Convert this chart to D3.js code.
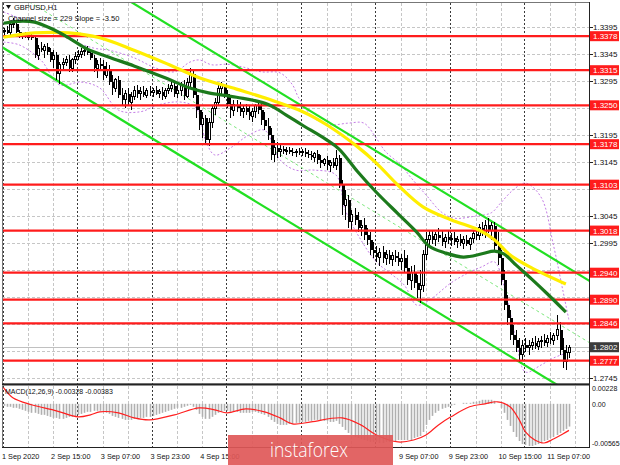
<!DOCTYPE html>
<html><head><meta charset="utf-8">
<script src="https://cdn.jsdelivr.net/npm/d3@7"></script>
<style>body{margin:0;background:#fff}svg{display:block}text{font-family:"Liberation Sans",Arial,sans-serif}</style>
</head><body><svg id="c" width="620" height="465"></svg>
<script>
// ---------- DATA ----------
const symbolTitle = "GBPUSD,H1";
const channelTitle = "Channel size = 229 Slope = -3.50";
const macdTitle = "MACD(12,26,9) -0.00328 -0.00383";
const firstOpen = 1.3386;
const closes = [
1.3389,1.3384,1.3399,1.3401,1.3386,1.3378,1.3380,1.3376,1.3378,1.3375,1.3343,1.3356,1.3352,1.3358,1.3349,1.3334,1.3343,1.3308,1.3325,1.3330,1.3334,1.3319,1.3334,1.3341,
1.3345,1.3349,1.3352,1.3347,1.3338,1.3319,1.3326,1.3323,1.3306,1.3315,1.3293,1.3282,1.3297,1.3269,1.3260,1.3271,1.3256,1.3267,1.3278,1.3271,1.3275,1.3269,1.3277,1.3273,
1.3278,1.3271,1.3275,1.3267,1.3278,1.3282,1.3286,1.3271,1.3278,1.3288,1.3267,1.3293,1.3308,1.3269,1.3241,1.3214,1.3226,1.3186,1.3219,1.3245,1.3256,1.3282,1.3286,1.3271,
1.3252,1.3241,1.3251,1.3245,1.3238,1.3245,1.3238,1.3230,1.3238,1.3249,1.3241,1.3223,1.3212,1.3195,1.3158,1.3171,1.3164,1.3169,1.3165,1.3167,1.3164,1.3162,1.3165,1.3162,
1.3164,1.3160,1.3158,1.3154,1.3160,1.3149,1.3143,1.3149,1.3139,1.3145,1.3138,1.3152,1.3102,1.3065,1.3075,1.3034,1.3047,1.3038,1.3023,1.3028,1.3010,1.3001,1.2982,1.2977,
1.2969,1.2978,1.2967,1.2973,1.2964,1.2971,1.2967,1.2960,1.2967,1.2949,1.2926,1.2941,1.2921,1.2908,1.2917,1.2973,1.3001,1.3008,1.3001,1.3010,1.3004,1.2997,1.3006,1.3001,
1.3004,1.2997,1.3002,1.2995,1.3001,1.2993,1.3004,1.3012,1.3008,1.3023,1.3015,1.3028,1.3019,1.3027,1.2989,1.2967,1.2926,1.2880,1.2856,1.2825,1.2815,1.2801,1.2788,1.2806,
1.2801,1.2806,1.2810,1.2804,1.2812,1.2815,1.2810,1.2819,1.2815,1.2823,1.2834,1.2797,1.2775,1.2793,1.2802];
const highs = [
1.3393,1.3397,1.3404,1.3412,1.3404,1.3389,1.3384,1.3386,1.3384,1.3384,1.3378,1.3362,1.3367,1.3364,1.3365,1.3356,1.3352,1.3349,1.3330,1.3338,1.3341,1.3343,1.3338,1.3349,
1.3352,1.3356,1.3358,1.3360,1.3352,1.3343,1.3334,1.3338,1.3334,1.3330,1.3325,1.3306,1.3301,1.3304,1.3282,1.3278,1.3282,1.3275,1.3286,1.3288,1.3284,1.3286,1.3282,1.3286,
1.3282,1.3286,1.3280,1.3284,1.3282,1.3289,1.3293,1.3293,1.3288,1.3293,1.3297,1.3301,1.3319,1.3315,1.3282,1.3251,1.3238,1.3232,1.3226,1.3251,1.3264,1.3289,1.3293,1.3289,
1.3278,1.3264,1.3260,1.3260,1.3256,1.3251,1.3252,1.3249,1.3245,1.3252,1.3260,1.3252,1.3238,1.3226,1.3208,1.3186,1.3182,1.3176,1.3175,1.3173,1.3173,1.3171,1.3169,1.3171,
1.3169,1.3171,1.3167,1.3165,1.3164,1.3167,1.3158,1.3152,1.3156,1.3149,1.3152,1.3167,1.3158,1.3112,1.3093,1.3084,1.3056,1.3060,1.3052,1.3038,1.3041,1.3023,1.3015,1.2997,
1.2989,1.2986,1.2989,1.2982,1.2982,1.2978,1.2982,1.2978,1.2975,1.2982,1.2973,1.2952,1.2954,1.2936,1.2945,1.2982,1.3015,1.3019,1.3019,1.3015,1.3023,1.3017,1.3012,1.3017,
1.3014,1.3015,1.3008,1.3012,1.3008,1.3010,1.3006,1.3019,1.3023,1.3030,1.3034,1.3038,1.3041,1.3034,1.3034,1.3015,1.2982,1.2945,1.2899,1.2871,1.2843,1.2834,1.2819,1.2815,
1.2819,1.2815,1.2819,1.2823,1.2819,1.2823,1.2826,1.2825,1.2830,1.2828,1.2862,1.2849,1.2819,1.2806,1.2806];
const lows = [
1.3380,1.3382,1.3380,1.3393,1.3384,1.3375,1.3373,1.3375,1.3371,1.3371,1.3338,1.3334,1.3349,1.3338,1.3343,1.3330,1.3319,1.3297,1.3289,1.3315,1.3323,1.3312,1.3312,1.3326,
1.3334,1.3338,1.3341,1.3343,1.3334,1.3312,1.3301,1.3315,1.3297,1.3301,1.3288,1.3269,1.3275,1.3264,1.3251,1.3245,1.3249,1.3241,1.3260,1.3264,1.3260,1.3265,1.3264,1.3267,
1.3265,1.3269,1.3264,1.3260,1.3262,1.3271,1.3275,1.3265,1.3264,1.3267,1.3260,1.3264,1.3282,1.3264,1.3226,1.3204,1.3189,1.3177,1.3175,1.3208,1.3232,1.3249,1.3271,1.3264,
1.3245,1.3226,1.3230,1.3238,1.3230,1.3226,1.3232,1.3223,1.3219,1.3226,1.3234,1.3214,1.3204,1.3186,1.3149,1.3145,1.3152,1.3154,1.3160,1.3158,1.3160,1.3156,1.3154,1.3158,
1.3156,1.3154,1.3152,1.3149,1.3145,1.3141,1.3134,1.3138,1.3130,1.3127,1.3134,1.3130,1.3097,1.3047,1.3038,1.3023,1.3019,1.3028,1.3015,1.3008,1.3001,1.2991,1.2973,1.2967,
1.2960,1.2952,1.2958,1.2954,1.2956,1.2952,1.2960,1.2952,1.2945,1.2941,1.2917,1.2908,1.2912,1.2893,1.2884,1.2904,1.2964,1.2986,1.2993,1.2989,1.2997,1.2989,1.2986,1.2993,
1.2989,1.2991,1.2986,1.2989,1.2984,1.2989,1.2982,1.2995,1.3001,1.3001,1.3008,1.3004,1.3014,1.3001,1.2982,1.2954,1.2917,1.2871,1.2843,1.2815,1.2806,1.2793,1.2775,1.2778,
1.2793,1.2788,1.2797,1.2799,1.2797,1.2801,1.2804,1.2802,1.2808,1.2806,1.2815,1.2788,1.2764,1.2760,1.2782];

// moving averages & Bollinger bands: [bar, price]
const maFast = [[0,1.3402],[6,1.3406],[10,1.3404],[15,1.3393],[21,1.3375],[27,1.3354],[34,1.3339],[42,1.3323],[52,1.3301],[60,1.3282],[66,1.3273],[75,1.3265],[85,1.3252],[91,1.3232],[96,1.3214],[104,1.3186],[108,1.3169],[114,1.3127],[120,1.3089],[127,1.3049],[133,1.3015],[137,1.2989],[142,1.2977],[148,1.2969],[154,1.2975],[158,1.2980],[161,1.2975],[165,1.2954],[170,1.2928],[175,1.2901],[181,1.2867]];
const maSlow = [[0,1.3376],[10,1.3384],[21,1.3384],[31,1.3375],[42,1.3352],[53,1.3326],[63,1.3301],[75,1.3280],[85,1.3262],[96,1.3239],[104,1.3214],[114,1.3173],[120,1.3143],[127,1.3102],[135,1.3062],[144,1.3038],[153,1.3019],[158,1.3001],[163,1.2973],[170,1.2949],[181,1.2919]];
const bandUpper = [[0,1.3423],[5,1.3412],[13,1.3399],[20,1.3375],[29,1.3356],[34,1.3352],[42,1.3338],[49,1.3319],[55,1.3312],[60,1.3330],[63,1.3334],[67,1.3325],[72,1.3326],[77,1.3321],[83,1.3312],[89,1.3310],[93,1.3288],[95,1.3264],[100,1.3226],[105,1.3214],[111,1.3217],[116,1.3217],[120,1.3189],[123,1.3164],[128,1.3139],[131,1.3117],[136,1.3084],[141,1.3052],[145,1.3041],[152,1.3045],[157,1.3051],[160,1.3069],[164,1.3093],[168,1.3106],[173,1.3080],[177,1.2991],[180,1.2908],[182,1.2852]];
const bandLower = [[0,1.3367],[5,1.3362],[12,1.3334],[18,1.3288],[25,1.3293],[31,1.3282],[37,1.3241],[44,1.3238],[50,1.3251],[57,1.3256],[62,1.3245],[65,1.3186],[68,1.3158],[73,1.3171],[79,1.3195],[84,1.3204],[89,1.3149],[94,1.3130],[100,1.3130],[107,1.3121],[110,1.3056],[115,1.3001],[120,1.2960],[124,1.2941],[129,1.2917],[133,1.2880],[137,1.2889],[144,1.2921],[150,1.2941],[154,1.2951],[158,1.2960],[161,1.2917],[165,1.2815],[168,1.2756],[173,1.2769],[177,1.2782],[182,1.2793]];

// regression channel
const channelStartBar = 0, channelStartPrice = 1.3585, channelSlope = -0.00035, channelSize = 0.0229;

const levels = [1.3378,1.3315,1.3250,1.3178,1.3103,1.3018,1.2940,1.2890,1.2846,1.2777];
const currentPrice = 1.2802;
const priceTicks = [1.2745,1.2795,1.2845,1.2895,1.2945,1.2995,1.3045,1.3095,1.3145,1.3195,1.3245,1.3295,1.3345,1.3395];

// labels that the watermark fully hides in the reference are left out
const timeLabels = [[-1,"1 Sep 2020"],[15,"2 Sep 15:00"],[31,"3 Sep 07:00"],[47,"3 Sep 23:00"],[63,"4 Sep 15:00"],[127,"9 Sep 07:00"],[143,"9 Sep 23:00"],[159,"10 Sep 15:00"],[175,"11 Sep 07:00"]];
const daySeparators = [0,24,48,72,96,120,144,168];

const macdHist = [
-0.00029,-0.00043,-0.00043,-0.00058,-0.00058,-0.00072,
-0.00087,-0.00101,-0.00116,-0.0013,-0.0013,-0.00145,-0.00159,-0.00159,-0.00174,-0.00188,
-0.00203,-0.00203,-0.00217,-0.00217,-0.00203,-0.00188,-0.00188,-0.00174,-0.00159,-0.00145,
-0.0013,-0.00116,-0.00116,-0.00101,-0.00101,-0.00101,-0.00116,-0.0013,
-0.00145,-0.00174,-0.00188,-0.00203,-0.00217,-0.00232,-0.00232,-0.00232,-0.00217,-0.00217,-0.00203,-0.00203,-0.00188,-0.00188,
-0.00174,-0.00159,-0.00145,-0.0013,-0.00116,-0.00101,-0.00087,-0.00072,-0.00058,-0.00058,-0.00043,-0.00029,-0.00014,
-0.00043,-0.00087,-0.00145,-0.00188,-0.00217,-0.00217,-0.00188,-0.00159,-0.0013,-0.00116,-0.00101,
-0.00101,-0.00116,-0.00116,-0.00116,-0.0013,-0.0013,-0.0013,-0.0013,-0.00116,-0.00116,-0.0013,-0.00145,-0.00159,-0.00188,
-0.00232,-0.00261,-0.0029,-0.00304,-0.00304,-0.00304,-0.0029,-0.0029,-0.00275,-0.00275,-0.00261,-0.00261,-0.00246,-0.00246,
-0.00232,-0.00232,-0.00246,-0.00246,-0.00246,-0.00261,-0.00261,-0.00246,
-0.0029,-0.00333,-0.00377,-0.0042,-0.00449,-0.00478,-0.00493,-0.00507,-0.00522,-0.00536,-0.0055,-0.0055,
-0.0055,-0.00565,-0.00565,-0.0055,-0.0055,-0.00536,-0.00536,-0.00522,-0.00522,-0.00522,
-0.00522,-0.00522,-0.00493,-0.00478,-0.00464,-0.00406,
-0.00304,-0.00232,-0.00174,-0.0013,-0.00101,-0.00072,-0.00058,-0.00043,
-0.00029,-0.00014,0,0,0.00014,0.00014,0.00014,0.00029,0.00029,0.00043,0.00058,0.00058,0.00058,0.00058,
0.00043,0,-0.00058,-0.0013,-0.00232,-0.00319,-0.00406,-0.00478,-0.00536,-0.0058,
-0.00594,-0.00608,-0.00608,-0.00594,-0.0058,-0.00565,-0.00536,-0.00522,-0.00493,-0.00478,-0.00449,-0.0042,-0.00391,-0.00362,-0.00328];
const macdSignal = [[0,0.00232],[3,0.00087],[9,-0.00014],[17,-0.00101],[24,-0.00188],[28,-0.00159],[31,-0.00116],[37,-0.0013],[42,-0.00203],[47,-0.00232],[55,-0.00159],[63,-0.00058],[68,-0.00087],[72,-0.0013],[78,-0.00072],[84,-0.00116],[89,-0.00203],[93,-0.0029],[99,-0.00261],[109,-0.00203],[115,-0.00304],[120,-0.00449],[127,-0.0055],[132,-0.00522],[136,-0.00449],[140,-0.00304],[144,-0.00188],[150,-0.00043],[155,0],[159,0.00029],[163,-0.00043],[166,-0.00232],[168,-0.00406],[171,-0.00522],[174,-0.00565],[177,-0.00507],[180,-0.00435],[182,-0.00383]];
const macdTickValues = [0.00228, 0, -0.00565];
const macdTickLabels = ["0.00228", "0.00", "-0.00565"];
const watermarkText = "instaforex";

// ---------- LAYOUT ----------
const L = 2, R = 590, mainT = 3, mainB = 384, macdT = 386, macdB = 447;
const svg = d3.select("#c");
const nBars = closes.length;
const x = d3.scaleLinear().domain([0, nBars - 1]).range([3.5, 3.5 + (nBars - 1) * 3.107]);
const y = d3.scaleLinear().domain([1.2745, 1.3395]).range([378, 27]);
const ym = d3.scaleLinear().domain([-0.00565, 0.00228]).range([443, 388]);
const opens = closes.map((c, i) => i === 0 ? firstOpen : closes[i - 1]);

const defs = svg.append("defs");
defs.append("clipPath").attr("id", "cm").append("rect").attr("x", L).attr("y", mainT).attr("width", R - L).attr("height", mainB - mainT);
defs.append("clipPath").attr("id", "cd").append("rect").attr("x", L).attr("y", macdT).attr("width", R - L).attr("height", macdB - macdT);

const gMain = svg.append("g").attr("clip-path", "url(#cm)");
const gMacd = svg.append("g").attr("clip-path", "url(#cd)");

// grid
gMain.selectAll("line.hg").data(priceTicks).join("line")
  .attr("x1", L).attr("x2", R).attr("y1", d => Math.round(y(d)) + 0.5).attr("y2", d => Math.round(y(d)) + 0.5)
  .attr("stroke", "#c6c6c6").attr("stroke-dasharray", "3,2");
const gridBars = d3.range(0, nBars + 8, 8).filter(b => !daySeparators.includes(b));
[gMain, gMacd].forEach((g, k) => {
  const y1 = k ? macdT : mainT, y2 = k ? macdB : mainB;
  g.selectAll("line.vg").data(gridBars).join("line")
    .attr("x1", d => Math.round(x(d)) + 0.5).attr("x2", d => Math.round(x(d)) + 0.5).attr("y1", y1).attr("y2", y2)
    .attr("stroke", "#c6c6c6").attr("stroke-dasharray", "3,2");
  g.selectAll("line.ds").data(daySeparators).join("line")
    .attr("x1", d => Math.round(x(d)) - 0.5).attr("x2", d => Math.round(x(d)) - 0.5).attr("y1", y1).attr("y2", y2)
    .attr("stroke", "#3a3a3a").attr("stroke-dasharray", "2,2");
});

// current price line
gMain.append("line").attr("x1", L).attr("x2", R).attr("y1", Math.round(y(currentPrice)) + 0.5).attr("y2", Math.round(y(currentPrice)) + 0.5)
  .attr("stroke", "#c0c0c0");

// bands
const curve = d3.line().x(d => x(d[0])).y(d => y(d[1])).curve(d3.curveCatmullRom.alpha(0.5));
[bandUpper, bandLower].forEach(b => gMain.append("path").attr("d", curve(b)).attr("fill", "none")
  .attr("stroke", "#c47ee6").attr("stroke-width", 1).attr("stroke-dasharray", "2,2"));

// channel
const chan = off => { const b0 = -5, b1 = nBars + 12;
  return [[b0, channelStartPrice + channelSlope * (b0 - channelStartBar) - off], [b1, channelStartPrice + channelSlope * (b1 - channelStartBar) - off]]; };
const straight = d3.line().x(d => x(d[0])).y(d => y(d[1]));
gMain.append("path").attr("d", straight(chan(channelSize / 2))).attr("stroke", "#7ee87e").attr("stroke-width", 1).attr("stroke-dasharray", "3,3").attr("fill", "none");
[0, channelSize].forEach(off => gMain.append("path").attr("d", straight(chan(off))).attr("stroke", "#22e022").attr("stroke-width", 2.2).attr("fill", "none"));

// candles
const cg = gMain.append("g").attr("shape-rendering", "crispEdges");
closes.forEach((c, i) => {
  const o = opens[i], cx = Math.round(x(i));
  cg.append("line").attr("x1", cx + 0.5).attr("x2", cx + 0.5).attr("y1", y(highs[i])).attr("y2", y(lows[i])).attr("stroke", "#000");
  const top = y(Math.max(o, c)), bot = y(Math.min(o, c));
  if (c >= o) {
    cg.append("rect").attr("x", cx - 0.5).attr("y", top).attr("width", 2).attr("height", Math.max(1, bot - top))
      .attr("fill", "#fff").attr("stroke", "#000").attr("stroke-width", 1);
  } else {
    cg.append("rect").attr("x", cx - 0.5).attr("y", top).attr("width", 3).attr("height", Math.max(1, bot - top)).attr("fill", "#000");
  }
});

// levels
gMain.selectAll("line.lv").data(levels).join("line")
  .attr("x1", L).attr("x2", R).attr("y1", d => y(d)).attr("y2", d => y(d))
  .attr("stroke", "#ff1c1c").attr("stroke-width", 2.2);

// moving averages
gMain.append("path").attr("d", curve(maSlow)).attr("fill", "none").attr("stroke", "#ffee00").attr("stroke-width", 3.2);
gMain.append("path").attr("d", curve(maFast)).attr("fill", "none").attr("stroke", "#1c7a1c").attr("stroke-width", 3.2);

// MACD
gMacd.selectAll("line.h").data(macdHist).join("line")
  .attr("x1", (d, i) => Math.round(x(i)) + 0.5).attr("x2", (d, i) => Math.round(x(i)) + 0.5)
  .attr("y1", ym(0)).attr("y2", d => ym(d)).attr("stroke", "#b0b0b0").attr("stroke-width", 1.6);
const mline = d3.line().x(d => x(d[0])).y(d => ym(d[1])).curve(d3.curveCatmullRom.alpha(0.5));
gMacd.append("path").attr("d", mline(macdSignal)).attr("fill", "none").attr("stroke", "#ff2020").attr("stroke-width", 1.2);

// frames
svg.append("rect").attr("x", L + 0.5).attr("y", mainT - 0.5).attr("width", R - L - 1).attr("height", mainB - mainT + 0.5).attr("fill", "none").attr("stroke", "#777");
svg.append("line").attr("x1", L).attr("x2", R).attr("y1", 384.5).attr("y2", 384.5).attr("stroke", "#222").attr("stroke-width", 2);
svg.append("line").attr("x1", L).attr("x2", R).attr("y1", macdB + 0.5).attr("y2", macdB + 0.5).attr("stroke", "#222");
svg.append("line").attr("x1", R - 0.5).attr("x2", R - 0.5).attr("y1", mainT - 1).attr("y2", macdB + 1).attr("stroke", "#222");
svg.append("line").attr("x1", L + 0.5).attr("x2", L + 0.5).attr("y1", macdT).attr("y2", macdB).attr("stroke", "#777");

// right axis
const ax = svg.append("g").style("font-size", "8px");
const boxed = levels.concat([currentPrice]);
const freeTicks = priceTicks.filter(t => boxed.every(b => Math.abs(y(t) - y(b)) >= 7));
ax.selectAll("line.t").data(priceTicks).join("line").attr("x1", R).attr("x2", R + 3)
  .attr("y1", d => Math.round(y(d)) + 0.5).attr("y2", d => Math.round(y(d)) + 0.5).attr("stroke", "#222");
ax.selectAll("text.t").data(freeTicks).join("text").attr("x", R + 3).attr("y", d => y(d) + 3)
  .attr("fill", "#111").text(d => d3.format(".4f")(d));
levels.forEach(l => {
  ax.append("rect").attr("x", R).attr("y", y(l) - 5).attr("width", 29).attr("height", 10).attr("fill", "#ff1c1c");
  ax.append("text").attr("x", R + 3).attr("y", y(l) + 3).attr("fill", "#fff").text(d3.format(".4f")(l));
});
ax.append("rect").attr("x", R).attr("y", y(currentPrice) - 5).attr("width", 29).attr("height", 10).attr("fill", "#3c3c3c");
ax.append("text").attr("x", R + 3).attr("y", y(currentPrice) + 3).attr("fill", "#fff").text(d3.format(".4f")(currentPrice));
macdTickValues.forEach((v, k) => {
  ax.append("text").attr("x", R + 2).attr("y", ym(v) + 3).style("font-size", "7px").attr("fill", "#111").text(macdTickLabels[k]);
});

// time labels
const tg = svg.append("g").style("font-size", "7.3px");
const tl = tg.selectAll("text").data(timeLabels).join("text")
  .attr("x", d => Math.max(L, x(d[0]) + 1)).attr("y", 459).attr("fill", "#111").text(d => d[1]);
let limit = R;
tl.nodes().slice().reverse().forEach(n => {
  const w = n.getComputedTextLength(); let xs = +n.getAttribute("x");
  if (xs + w > limit) xs = limit - w;
  n.setAttribute("x", xs); limit = xs - 3;
});

// header texts
svg.append("path").attr("d", "M6,5 L11,5 L8.5,9 Z").attr("fill", "#111");
svg.append("text").attr("x", 14).attr("y", 10).style("font-size", "7.5px").attr("fill", "#111").text(symbolTitle);
svg.append("text").attr("x", 8).attr("y", 21).style("font-size", "7.5px").attr("fill", "#111").text(channelTitle);
svg.append("text").attr("x", 5).attr("y", 394).style("font-size", "7px").attr("fill", "#111").text(macdTitle);

// watermark
svg.append("rect").attr("x", 228).attr("y", 435).attr("width", 165).attr("height", 30).attr("fill", "#e05858").attr("opacity", 0.92);
svg.append("text").attr("x", 270).attr("y", 457).attr("fill", "#fff").style("font-family", "'Open Sans',Roboto,sans-serif")
  .style("font-weight", 300).style("font-size", "21px").attr("textLength", 78).attr("lengthAdjust", "spacingAndGlyphs").text(watermarkText);
</script></body></html>
